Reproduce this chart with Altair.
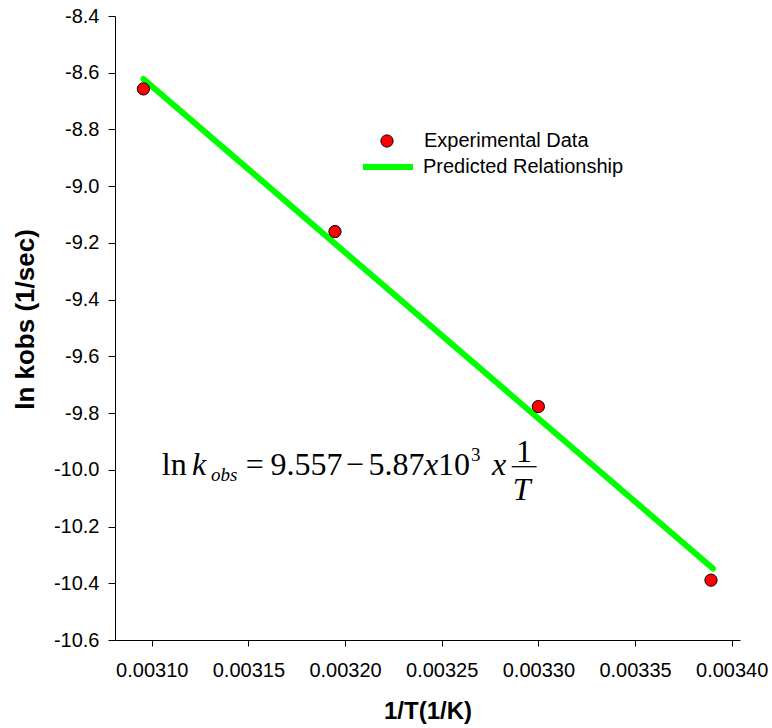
import altair as alt
import pandas as pd

# ---- data ----
inv_T = [0.0030957, 0.0031948, 0.0033000, 0.0033893]
ln_kobs = [-8.657, -9.160, -9.777, -10.389]
fit_inv_T = [0.0030957, 0.0033903]
fit_ln_k = [-8.622, -10.348]
x_ticks = [0.00310, 0.00315, 0.00320, 0.00325, 0.00330, 0.00335, 0.00340]
y_ticks = [-10.6, -10.4, -10.2, -10.0, -9.8, -9.6, -9.4, -9.2, -9.0, -8.8, -8.6, -8.4]
exp_name = "Experimental Data"
fit_name = "Predicted Relationship"

# equation annotation pieces (anchored in data coordinates)
eq_labels = ["ln", "k", "obs", "=", "9.557", "\u2212", "5.87", "x", "10", "3", "x", "1", "T"]
eq_x = [0.0031052, 0.0031208, 0.0031307, 0.0031486, 0.0031615, 0.0032003, 0.0032121,
        0.0032408, 0.0032481, 0.0032652, 0.0032760, 0.0032884, 0.0032868]
eq_y = [-10.0183, -10.0183, -10.0394, -10.0183, -10.0183, -10.0183, -10.0183,
        -10.0183, -10.0183, -9.9689, -10.0183, -9.9714, -10.1064]
eq_italic = [False, True, True, False, False, False, False, True, False, False, True, False, True]
eq_size = [32, 32, 19, 32, 32, 32, 32, 32, 32, 19, 32, 32, 32]
bar_x = [0.0032862]
bar_x2 = [0.0032991]
bar_y = [-9.9890]

pts = pd.DataFrame({"x": inv_T, "y": ln_kobs, "series": exp_name})
fit = pd.DataFrame({"x": fit_inv_T, "y": fit_ln_k, "series": fit_name})
eq = pd.DataFrame({"x": eq_x, "y": eq_y, "label": eq_labels, "italic": eq_italic, "size": eq_size})
bar = pd.DataFrame({"x": bar_x, "x2": bar_x2, "y": bar_y})

SANS = "Liberation Sans"
SERIF = "Liberation Serif"

x_enc = alt.X(
    "x:Q",
    scale=alt.Scale(domain=[0.0030810, 0.0034043], nice=False, zero=False),
    axis=alt.Axis(
        values=x_ticks, format=".5f", title="1/T(1/K)", labelPadding=14,
        labelFlush=False, labelOverlap=False, tickSize=6,
        titleX=312.5, titleY=78, titleBaseline="alphabetic", titleAlign="center",
        titleFontSize=24,
    ),
)
y_enc = alt.Y(
    "y:Q",
    scale=alt.Scale(domain=[-10.6, -8.4], nice=False, zero=False),
    axis=alt.Axis(
        values=y_ticks,
        labelExpr="replace(format(datum.value, '.1f'), '\u2212', '-')",
        title="ln kobs (1/sec)", labelPadding=9, tickSize=7,
        titleX=-82, titleY=303, titleAngle=270, titleBaseline="alphabetic",
        titleAlign="center", titleFontSize=26, labelFlush=False, labelOverlap=False,
    ),
)

line = alt.Chart(fit).mark_line(strokeWidth=6, strokeCap="round").encode(
    x=x_enc, y=y_enc,
    stroke=alt.Stroke(
        "series:N",
        scale=alt.Scale(domain=[fit_name], range=["#00ff00"]),
        legend=alt.Legend(
            orient="none", legendX=245, legendY=123, title=None,
            symbolType="stroke", symbolSize=2500, symbolStrokeWidth=6,
            labelOffset=7, labelFont=SANS, labelFontSize=20, labelColor="black",
            labelLimit=0, padding=0,
        ),
    ),
)

points = alt.Chart(pts).mark_point(
    shape="circle", filled=True, size=150, stroke="black", strokeWidth=1, opacity=1
).encode(
    x=x_enc, y=y_enc,
    fill=alt.Fill(
        "series:N",
        scale=alt.Scale(domain=[exp_name], range=["#ff0000"]),
        legend=alt.Legend(
            orient="none", legendX=262, legendY=115, title=None,
            symbolType="circle", symbolSize=150, symbolStrokeColor="black",
            symbolStrokeWidth=1, symbolOpacity=1,
            labelOffset=27, labelFont=SANS, labelFontSize=20, labelColor="black",
            labelLimit=0, padding=0,
        ),
    ),
)

eq_normal = alt.Chart(eq).transform_filter("!datum.italic").mark_text(
    font=SERIF, align="left", baseline="alphabetic", color="black"
).encode(x=x_enc, y=y_enc, text="label:N", size=alt.Size("size:Q", scale=None))

eq_ital = alt.Chart(eq).transform_filter("datum.italic").mark_text(
    font=SERIF, fontStyle="italic", align="left", baseline="alphabetic", color="black"
).encode(x=x_enc, y=y_enc, text="label:N", size=alt.Size("size:Q", scale=None))

frac_bar = alt.Chart(bar).mark_rule(color="black", strokeWidth=1.3).encode(
    x=x_enc, x2="x2:Q", y=y_enc
)

chart = alt.layer(line, points, eq_normal, eq_ital, frac_bar).properties(
    width=625, height=624,
    padding={"left": 115, "top": 16, "right": 32, "bottom": 88},
    autosize=alt.AutoSizeParams(type="none"),
    background="white",
).configure_view(stroke=None).configure_axis(
    grid=False, domainColor="black", tickColor="black", labelColor="black",
    titleColor="black", labelFont=SANS, titleFont=SANS, labelFontSize=20,
    titleFontWeight="bold", domainWidth=1, tickWidth=1,
)

chart.save("out.html", embed_options={"renderer": "svg", "actions": False})
